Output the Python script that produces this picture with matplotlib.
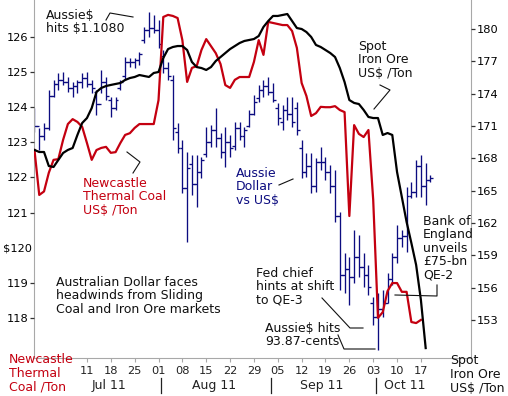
import matplotlib
matplotlib.use('Agg')
import matplotlib.pyplot as plt
from matplotlib.lines import Line2D
import matplotlib.transforms as mtransforms
import numpy as np
import pandas as pd

# trading days, 24 Jun 2011 -> 19 Oct 2011
days = pd.bdate_range('2011-06-24', periods=84)

# Aussie dollar vs US$ (daily OHLC)
aud_open = [1.055, 1.051, 1.046, 1.050, 1.066, 1.072, 1.074, 1.073, 1.070, 1.071,
            1.073, 1.075, 1.072, 1.068, 1.062, 1.073, 1.064, 1.060, 1.070, 1.076,
            1.083, 1.083, 1.084, 1.094, 1.099, 1.100, 1.099, 1.086, 1.080, 1.074,
            1.048, 1.040, 1.020, 1.032, 1.022, 1.028, 1.037, 1.043, 1.049, 1.045,
            1.038, 1.043, 1.041, 1.050, 1.046, 1.051, 1.057, 1.065, 1.069, 1.071,
            1.068, 1.060, 1.053, 1.059, 1.057, 1.060, 1.040, 1.028, 1.031, 1.021,
            1.033, 1.033, 1.028, 1.021, 1.006, 0.976, 0.979, 0.975, 0.985, 0.980,
            0.976, 0.962, 0.955, 0.959, 0.962, 0.974, 0.985, 0.995, 0.996, 1.016,
            1.018, 1.031, 1.021, 1.024]
aud_high = [1.060, 1.050, 1.0525, 1.069, 1.074, 1.0775, 1.078, 1.0755, 1.073, 1.074,
            1.0775, 1.078, 1.074, 1.069, 1.079, 1.0755, 1.0655, 1.0655, 1.074, 1.0855,
            1.085, 1.085, 1.088, 1.1005, 1.108, 1.1065, 1.104, 1.089, 1.083, 1.0765,
            1.0525, 1.044, 1.038, 1.0365, 1.0365, 1.0355, 1.0505, 1.0515, 1.060, 1.0475,
            1.0505, 1.0465, 1.053, 1.053, 1.0505, 1.059, 1.0665, 1.0715, 1.074, 1.0755,
            1.0725, 1.0625, 1.0615, 1.0655, 1.0655, 1.063, 1.044, 1.0375, 1.0375, 1.035,
            1.0405, 1.0355, 1.0315, 1.029, 1.008, 0.9873, 0.9853, 0.999, 0.9965, 0.9873,
            0.9813, 0.9652, 0.9672, 0.9688, 0.9773, 0.9873, 1.0015, 0.999, 1.0205, 1.023,
            1.034, 1.0365, 1.0325, 1.0265]
aud_low = [1.048, 1.039, 1.044, 1.049, 1.0655, 1.069, 1.0715, 1.068, 1.0655, 1.0675,
           1.070, 1.0705, 1.0675, 1.0565, 1.0675, 1.064, 1.0555, 1.059, 1.069, 1.074,
           1.0805, 1.080, 1.0815, 1.0925, 1.0955, 1.0975, 1.090, 1.0775, 1.074, 1.044,
           1.0375, 1.0175, 0.9930, 1.0165, 1.0105, 1.025, 1.0355, 1.0405, 1.0405, 1.035,
           1.0305, 1.0355, 1.039, 1.044, 1.0405, 1.0505, 1.0565, 1.063, 1.0655, 1.0665,
           1.063, 1.0515, 1.049, 1.054, 1.0505, 1.0465, 1.025, 1.0255, 1.0175, 1.018,
           1.029, 1.024, 1.0175, 1.003, 0.9688, 0.9673, 0.9612, 0.9723, 0.9753, 0.9703,
           0.9662, 0.9512, 0.9387, 0.9552, 0.9622, 0.9713, 0.9823, 0.9903, 0.9878, 1.015,
           1.0155, 1.0155, 1.0115, 1.023]
aud_close = [1.051, 1.046, 1.050, 1.066, 1.072, 1.074, 1.073, 1.070, 1.071, 1.073,
             1.075, 1.072, 1.070, 1.062, 1.073, 1.066, 1.060, 1.064, 1.073, 1.083,
             1.083, 1.084, 1.087, 1.099, 1.100, 1.099, 1.092, 1.080, 1.076, 1.050,
             1.040, 1.020, 1.030, 1.022, 1.028, 1.034, 1.043, 1.049, 1.045, 1.038,
             1.043, 1.040, 1.050, 1.046, 1.049, 1.057, 1.063, 1.069, 1.071, 1.068,
             1.064, 1.055, 1.059, 1.057, 1.053, 1.049, 1.028, 1.031, 1.021, 1.033,
             1.033, 1.028, 1.021, 1.006, 0.976, 0.979, 0.975, 0.985, 0.980, 0.976,
             0.970, 0.955, 0.959, 0.962, 0.974, 0.985, 0.995, 0.996, 1.016, 1.018,
             1.031, 1.021, 1.024, 1.025]

# Newcastle thermal coal, US$/ton (24 Jun -> 17 Oct)
coal = [122.78, 121.5, 121.6, 122.13, 122.5, 122.52, 123.07, 123.52, 123.66, 123.58,
        123.44, 122.98, 122.5, 122.78, 122.84, 122.87, 122.7, 122.72, 122.98, 123.21,
        123.26, 123.41, 123.52, 123.52, 123.52, 123.52, 124.2, 126.57, 126.63, 126.6,
        126.54, 125.91, 124.72, 125.12, 125.17, 125.63, 125.94, 125.74, 125.54, 125.23,
        124.63, 124.55, 124.78, 124.86, 124.86, 124.86, 125.29, 125.91, 125.49, 126.43,
        126.4, 126.37, 126.34, 126.34, 126.17, 125.69, 124.69, 124.32, 123.75, 123.83,
        124.01, 124.0, 124.0, 124.03, 123.92, 123.86, 120.9, 123.49, 123.24, 123.15,
        123.35, 121.36, 118.0, 118.16, 118.76, 118.99, 118.99, 118.74, 118.74, 117.88,
        117.85, 117.94]

# spot iron ore, US$/ton (24 Jun -> 18 Oct)
iron = [168.78, 168.59, 168.59, 167.29, 167.2, 167.85, 168.5, 168.78, 168.96, 170.17,
        171.28, 171.74, 172.67, 174.16, 174.53, 174.71, 174.81, 174.9, 174.99, 175.27,
        175.45, 175.55, 175.73, 175.64, 175.55, 175.92, 176.01, 177.31, 178.14, 178.33,
        178.42, 178.42, 178.05, 176.94, 176.47, 176.38, 176.2, 176.47, 177.03, 177.4,
        177.77, 178.14, 178.42, 178.7, 178.89, 178.98, 179.07, 179.35, 180.19, 180.74,
        181.21, 181.21, 181.3, 181.39, 180.74, 180.09, 180.0, 179.72, 179.26, 178.52,
        178.33, 178.05, 177.77, 177.4, 176.38, 175.08, 173.41, 173.14, 173.04, 172.49,
        171.84, 171.74, 171.74, 170.17, 170.35, 170.17, 166.73, 164.42, 162.1, 160.15,
        158.11, 154.86, 150.4]

coal_ticks = [118, 119, 120, 121, 122, 123, 124, 125, 126]
coal_labels = ['118', '119', '$120', '121', '122', '123', '124', '125', '126']
iron_ticks = [153, 156, 159, 162, 165, 168, 171, 174, 177, 180]

NAVY = '#0c0c80'
RED = '#c40010'
GRAY = '#a8a8a8'
FS = 8.2
NFS = 9

plt.rcParams['font.family'] = ['DejaVu Sans']
fig = plt.figure(figsize=(5.08, 3.96), dpi=100)
W, H = 508.0, 396.0
ax = fig.add_axes([34 / W, 1 - 358 / H, 437 / W, 358 / H])

x = np.arange(len(days))

# Aussie dollar bars
ax.vlines(x, aud_low, aud_high, color=NAVY, lw=0.95)
ax.hlines(aud_open, x - 0.6, x, color=NAVY, lw=0.95)
ax.hlines(aud_close, x, x + 0.6, color=NAVY, lw=0.95)
ax.set_ylim(0.93465, 1.114)
ax.set_yticks([])
ax.set_xlim(-0.1, 91.5)

ax_coal = ax.twinx()
ax_coal.plot(x[:len(coal)], coal, color=RED, lw=1.6)
ax_coal.set_ylim(116.855, 127.054)
ax_coal.yaxis.tick_left()
ax_coal.set_yticks(coal_ticks, coal_labels)
ax_coal.tick_params(axis='y', length=3, width=0.9, pad=1, labelsize=FS, color='#333333')
ax_coal.yaxis.get_major_ticks()[2].tick1line.set_visible(False)
lab120 = ax_coal.get_yticklabels()[2]
lab120.set_transform(lab120.get_transform() +
                     mtransforms.ScaledTranslation(4 / 100, 0, fig.dpi_scale_trans))

ax_iron = ax.twinx()
ax_iron.plot(x[:len(iron)], iron, color='black', lw=1.6)
ax_iron.set_ylim(149.48, 182.69)
ax_iron.set_yticks(iron_ticks)
ax_iron.tick_params(axis='y', length=3, width=0.9, pad=1, labelsize=FS, color='#333333')

for a in (ax, ax_coal, ax_iron):
    for s in a.spines.values():
        s.set_visible(False)
for s in ('left', 'right', 'bottom'):
    ax.spines[s].set_visible(True)
    ax.spines[s].set_color(GRAY)

# weekly ticks (Mondays from 11 Jul)
mondays = [i for i, d in enumerate(days) if d.weekday() == 0 and d >= pd.Timestamp('2011-07-11')]
ax.set_xticks(mondays, [days[i].strftime('%d') for i in mondays])
ax.tick_params(axis='x', length=3, color=GRAY, pad=3, labelsize=FS, labelcolor='#222222')

# month labels and separators
months = days.to_period('M')
for m in ['2011-07', '2011-08', '2011-09', '2011-10']:
    idx = np.where(months == pd.Period(m))[0]
    ax.text(idx.mean() + 0.6, -0.078, pd.Period(m).strftime('%b %y'),
            transform=ax.get_xaxis_transform(), ha='center', va='center',
            fontsize=FS + 0.8, color='#222222')
    if m != '2011-07':
        ax.plot([idx[0] + 0.5] * 2, [-0.056, -0.098], color='#222222', lw=0.9,
                transform=ax.get_xaxis_transform(), clip_on=False)


def px(xp, yp):
    return xp / W, 1 - yp / H


def note(xp, yp, s, color='#111111', ls=1.03):
    fig.text(*px(xp, yp), s, color=color, fontsize=NFS, va='top', ha='left', linespacing=ls)


def pointer(pts):
    fig.add_artist(Line2D([p[0] / W for p in pts], [1 - p[1] / H for p in pts],
                          color='#111111', lw=0.8))


note(46, 9, 'Aussie$\nhits $1.1080')
pointer([(106, 20), (110, 13), (133, 17)])
note(358, 40, 'Spot\nIron Ore\nUS$ /Ton')
pointer([(380, 85), (390, 90), (374, 109)])
note(83, 177, 'Newcastle\nThermal Coal\nUS$ /Ton', color=RED)
pointer([(127, 152), (140, 162), (133, 173)])
note(236, 167, 'Aussie\nDollar\nvs US$', color=NAVY)
pointer([(279, 185), (293, 179)])
note(56, 276, 'Australian Dollar faces\nheadwinds from Sliding\nCoal and Iron Ore markets')
note(423, 215, 'Bank of\nEngland\nunveils\n£75-bn\nQE-2')
pointer([(437, 285), (437, 296), (395, 295)])
note(256, 267, 'Fed chief\nhints at shift\nto QE-3')
pointer([(322, 298), (350, 328), (363, 328)])
note(265, 322, 'Aussie$ hits\n93.87-cents')
pointer([(338, 335), (344, 349), (375, 349)])
note(9, 353, 'Newcastle\nThermal\nCoal /Ton', color=RED, ls=1.08)
note(450, 354, 'Spot\nIron Ore\nUS$ /Ton', ls=1.08)

fig.savefig('out.png', dpi=100)
